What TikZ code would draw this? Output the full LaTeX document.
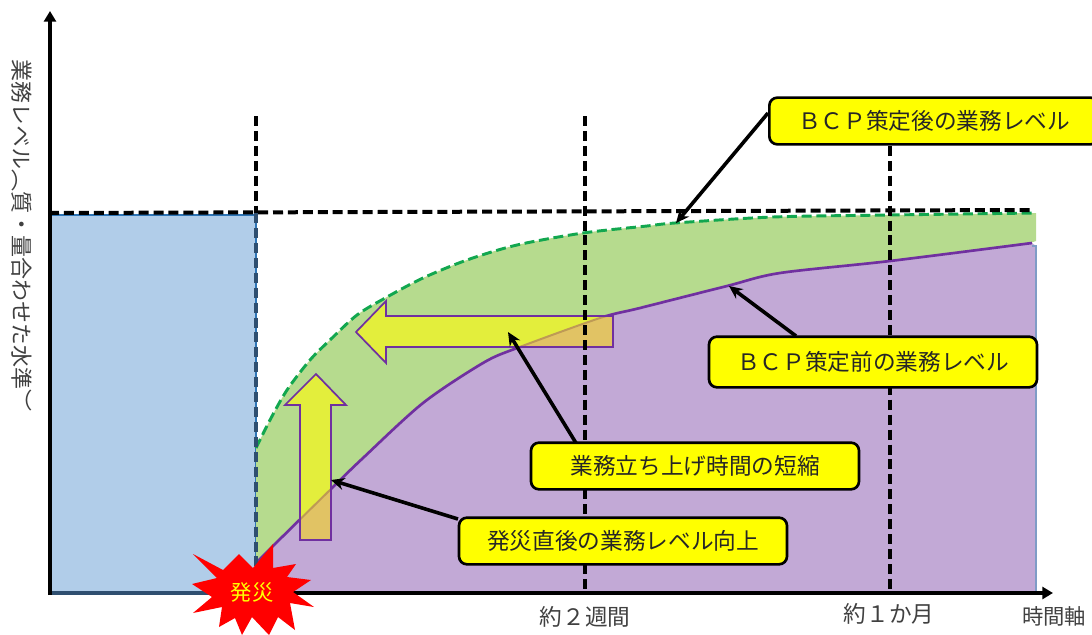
\documentclass[tikz,border=0pt]{standalone}
\usepackage{fontspec}
\setmainfont{Noto Sans CJK JP}
\newfontfamily\vertjp[Vertical=RotatedGlyphs]{Noto Sans CJK JP}
\usetikzlibrary{arrows.meta}
\definecolor{bluearea}{HTML}{B1CDE9}
\definecolor{blueedge}{HTML}{2E75B6}
\definecolor{slateline}{HTML}{2F4F70}
\definecolor{greenarea}{HTML}{B6DB8E}
\definecolor{purplearea}{HTML}{C2A9D6}
\definecolor{purpleedge}{HTML}{7F9CC6}
\definecolor{purpleline}{HTML}{7030A0}
\definecolor{greenline}{HTML}{12A74F}
\definecolor{arrowover}{HTML}{E3EE3C}
\definecolor{arrowunder}{HTML}{E1C364}
\definecolor{fadedline}{HTML}{BE9A55}
\definecolor{boxyellow}{RGB}{255,255,0}
\definecolor{burstred}{RGB}{255,0,0}
\tikzset{
  callout/.style={draw,line width=2pt,rounded corners=6pt,fill=boxyellow,inner sep=0pt,text=black!85,font=\fontsize{17}{17}\selectfont},
  levelarrow/.style={-{Stealth[length=10pt,width=9pt]},line width=2.7pt},
  guide/.style={line width=3pt,dash pattern=on 7.5pt off 3.7pt},
  axisline/.style={-{Triangle[length=8pt,width=9pt]},line width=3pt},
  axislabel/.style={text=black!75,font=\fontsize{17}{17}\selectfont,inner sep=0pt}
}
\newcommand{\beforecurve}{-- plot[smooth,tension=0.5] coordinates {(256,563) (275,544) (333,487) (363,458) (423,403) (483,363) (517,348) (600,318) (640,308) (727,286) (780,273) (890,261) (1032,243)}}
\newcommand{\aftercurve}{-- plot[smooth,tension=0.5] coordinates {(256,448) (270,420) (287,390) (310,360) (330,340) (357,315) (387,297) (423,278) (467,260) (517,245) (583,233) (647,226) (675,223) (773,217) (890,215) (1036,213)}}
\newcommand{\uparrowpath}{(300,540) -- (300,405) -- (285,405) -- (316,374) -- (346,405) -- (331,405) -- (331,540) -- cycle}
\newcommand{\leftarrowpath}{(613,347) -- (386,347) -- (386,363) -- (356,332) -- (386,301) -- (386,316) -- (613,316) -- cycle}
\begin{document}
\begin{tikzpicture}[x=0.75pt,y=-0.75pt]
\useasboundingbox (0,0) rectangle (1092,635);
% areas
\fill[bluearea] (51,214) rectangle (256,592);
\draw[blueedge,line width=1.6pt] (256,592) -- (256,215) -- (51,215);
\fill[greenarea] (256,563) \aftercurve -- (1036,241) -- (1030,243) -- cycle;
\fill[purplearea] (256,592) \beforecurve -- (1036,246) -- (1036,592) -- cycle;
\draw[purpleedge,line width=0.8pt] (1032,246) -- (1036,246) -- (1036,592);
\draw[purpleline,line width=2pt] (256,563) \beforecurve;
\draw[greenline,line width=2.2pt,dash pattern=on 7.5pt off 3.5pt] (256,448) \aftercurve;
% block arrows
\fill[arrowover] \uparrowpath;
\fill[arrowover] \leftarrowpath;
\begin{scope}
  \clip (256,592) \beforecurve -- (1036,246) -- (1036,592) -- cycle;
  \fill[arrowunder] \uparrowpath;
  \fill[arrowunder] \leftarrowpath;
\end{scope}
\begin{scope}
  \clip \uparrowpath;
  \draw[fadedline,line width=1.5pt] (256,563) \beforecurve;
\end{scope}
\begin{scope}
  \clip \leftarrowpath;
  \draw[fadedline,line width=1.5pt] (256,563) \beforecurve;
\end{scope}
\draw[purpleline,line width=1.3pt] \uparrowpath;
\draw[purpleline,line width=1.3pt] \leftarrowpath;
% guides
\draw[guide] (256,116) -- (256,213);
\draw[guide,slateline] (256,213) -- (256,592);
\draw[guide] (585,116) -- (585,592);
\draw[guide] (890,116) -- (890,592);
\draw[guide] (49,213) -- (1034,210);
% axes
\draw[axisline] (50,595) -- (50,11);
\draw[axisline] (50,593) -- (1053,593);
\draw[slateline,line width=3pt] (52,593) -- (256,593);
% burst
\fill[burstred] (193,554) -- (223,570) -- (239,554) -- (253,568) -- (273,544) -- (273,568) -- (296,564) -- (287,577) -- (311,580) -- (293,592) -- (314,607) -- (290,603) -- (295,630) -- (278,617) -- (269,635) -- (252,617) -- (242,635) -- (235,618) -- (219,627) -- (222,607) -- (193,613) -- (212,597) -- (192,584) -- (217,578) -- cycle;
\node[inner sep=0pt,text=boxyellow,font=\fontsize{16}{16}\selectfont] (hassai) at (252,592) {発災};
% callouts
\node[callout,minimum width=247pt,minimum height=35pt] (afterbox) at (934,121) {ＢＣＰ策定後の業務レベル};
\node[callout,minimum width=246pt,minimum height=38pt] (beforebox) at (873,362) {ＢＣＰ策定前の業務レベル};
\node[callout,minimum width=246pt,minimum height=35pt] (shortenbox) at (695,466) {業務立ち上げ時間の短縮};
\node[callout,minimum width=246pt,minimum height=35pt] (raisebox) at (623,541) {発災直後の業務レベル向上};
\coordinate (afterpt) at (676,223);
\coordinate (beforept) at (729,286);
\coordinate (shortenpt) at (508,332);
\coordinate (raisept) at (331,480);
\draw[levelarrow] (afterbox.west) ++(0,-8) -- (afterpt);
\draw[levelarrow] (796,336) -- (beforept);
\draw[levelarrow] (576,443) -- (shortenpt);
\draw[levelarrow] (458,519) -- (raisept);
% labels
\node[axislabel] (twoweeks) at (585,617) {約２週間};
\node[axislabel] (onemonth) at (889,614) {約１か月};
\node[axislabel,font=\fontsize{16}{16}\selectfont] (timeaxis) at (1054,616) {時間軸};
\node[axislabel,rotate=-90,font=\vertjp\fontsize{16.5}{16.5}\selectfont] (ylabel) at (22,236) {業務レベル（質・量合わせた水準）};
\end{tikzpicture}
\end{document}
